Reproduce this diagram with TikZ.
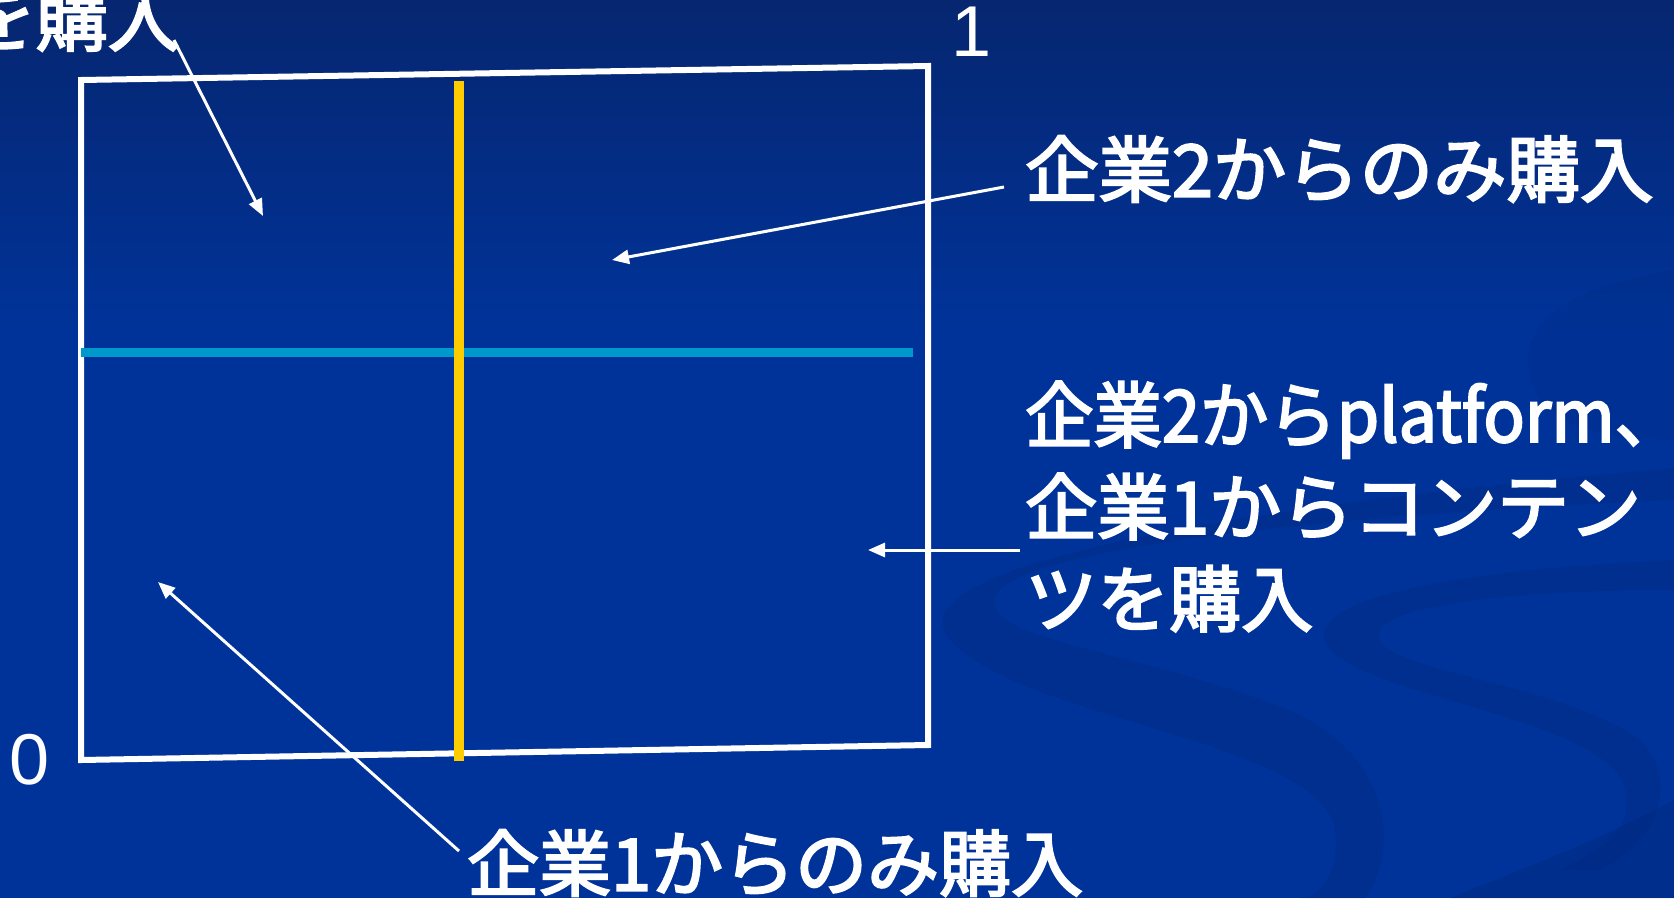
\documentclass[tikz,border=0pt]{standalone}
\usepackage{fontspec}
\setmainfont{Noto Sans CJK JP}[FakeBold=3]
\newfontfamily\digitfont{Liberation Sans}
\usetikzlibrary{arrows.meta}
\definecolor{bgtop}{RGB}{6,38,112}
\definecolor{bgmain}{RGB}{0,51,153}
\definecolor{swirl}{RGB}{0,40,125}
\definecolor{gold}{RGB}{255,204,0}
\definecolor{cyanline}{RGB}{0,153,204}
\tikzset{
  lbl/.style={text=white, inner sep=0pt, font=\fontsize{72}{92}\selectfont, align=left},
  num/.style={text=white, inner sep=0pt, font=\digitfont\fontsize{72}{80}\selectfont},
  pointer/.style={draw=white, line width=3pt, -{Triangle[length=17pt,width=14pt]}},
  frame/.style={draw=white, line width=6pt, line join=miter},
}
\begin{document}
\begin{tikzpicture}[x=1pt,y=-1pt]
\useasboundingbox (0,0) rectangle (1674,898);
% background
\fill[bgmain] (0,0) rectangle (1674,898);
\fill[top color=bgtop, bottom color=bgmain] (0,0) rectangle (1674,330);
% decorative swirls
\fill[swirl, opacity=0.35] (1674,468) .. controls (1300,500) and (880,560) .. (950,640)
  .. controls (1020,720) and (1320,740) .. (1335,830) .. controls (1340,870) and (1320,898) .. (1300,898)
  -- (1365,898) .. controls (1400,850) and (1390,760) .. (1300,715)
  .. controls (1150,650) and (960,640) .. (1000,590) .. controls (1050,540) and (1400,512) .. (1674,500) -- cycle;
\fill[swirl, opacity=0.3] (1674,560) .. controls (1450,570) and (1290,600) .. (1330,650)
  .. controls (1380,700) and (1610,720) .. (1625,790) .. controls (1635,830) and (1600,850) .. (1560,870)
  -- (1600,870) .. controls (1660,840) and (1680,780) .. (1640,740)
  .. controls (1560,680) and (1360,670) .. (1380,630) .. controls (1400,600) and (1550,590) .. (1674,590) -- cycle;
\fill[swirl, opacity=0.45] (1674,800) .. controls (1600,840) and (1520,870) .. (1450,898) -- (1674,898) -- cycle;
\fill[swirl, opacity=0.2] (1674,270) .. controls (1560,290) and (1500,330) .. (1540,400)
  .. controls (1560,430) and (1620,440) .. (1674,440) -- cycle;
% frame and lines
\draw[frame] (81,80) -- (928,66) -- (928,745) -- (81,760) -- cycle;
\draw[cyanline, line width=9pt] (81,352) -- (913,352);
\draw[gold, line width=10pt] (459,81) -- (459,761);
% labels
\node[num, anchor=center] (one) at (972,32) {1};
\node[num, anchor=center] (zero) at (30,760) {0};
\node[lbl, anchor=east] (tl) at (180,18) {を購入};
\node[lbl, anchor=west] (only2) at (1025,169) {\scalebox{1.02}[1]{企業2からのみ購入}};
\node[lbl, anchor=north west] (mixed) at (1025,381) {\scalebox{0.95}[1]{企業2からplatform、}\\企業1からコンテン\\ツを購入};
\node[lbl, anchor=west] (only1) at (467,863) {企業1からのみ購入};
% connector endpoints
\coordinate (tlstart) at (174,40);
\coordinate (tltip) at (263,216);
\coordinate (o2start) at (1004,187);
\coordinate (o2tip) at (612,260);
\coordinate (mxstart) at (1020,550);
\coordinate (mxtip) at (868,550);
\coordinate (o1start) at (459,851);
\coordinate (o1tip) at (158,582);
\draw[pointer] (tlstart) -- (tltip);
\draw[pointer] (o2start) -- (o2tip);
\draw[pointer] (mxstart) -- (mxtip);
\draw[pointer] (o1start) -- (o1tip);
\end{tikzpicture}
\end{document}
